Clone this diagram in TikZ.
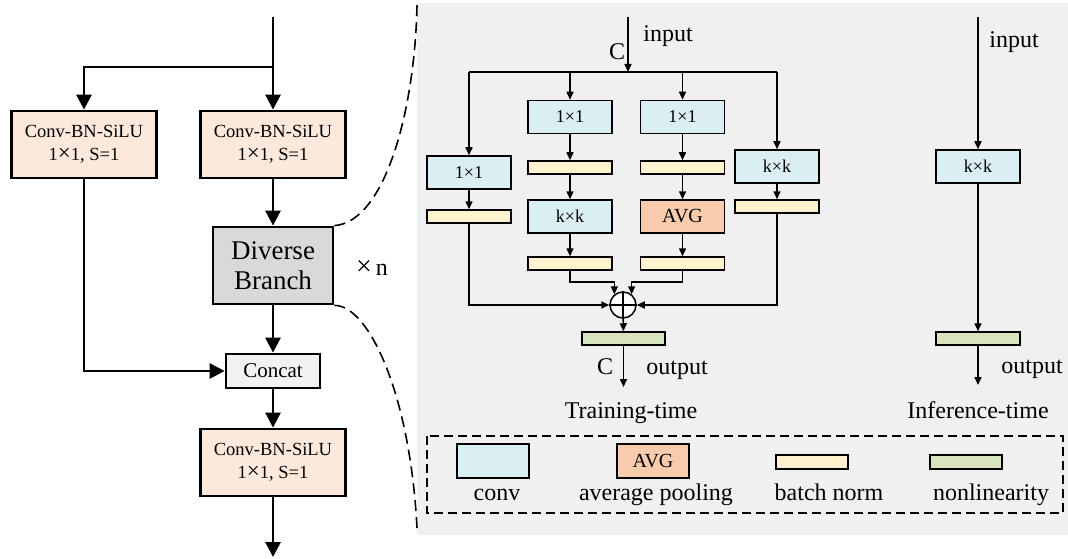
\documentclass[tikz,border=0pt]{standalone}
\usepackage{fontspec}
\setmainfont{Liberation Serif}
\newfontfamily\tnr{Liberation Serif}
\usetikzlibrary{arrows.meta,calc}
\definecolor{cbsfill}{HTML}{FCE9DB}
\definecolor{dbgray}{HTML}{D9D9D9}
\definecolor{catgray}{HTML}{F2F2F2}
\definecolor{panelgray}{HTML}{F0F0F0}
\definecolor{convblue}{HTML}{DAEEF3}
\definecolor{avgorange}{HTML}{F8CBAD}
\definecolor{bnyellow}{HTML}{FFF2CC}
\definecolor{nlgreen}{HTML}{D7E4BD}
\newcommand{\bigx}{{\fontsize{23}{23}\selectfont×}}
\begin{document}
\begin{tikzpicture}[x=1pt,y=-1pt,
  lbox/.style={draw,line width=2.8pt,inner sep=0pt,align=center},
  cbs/.style={lbox,fill=cbsfill,minimum width=145pt,minimum height=67pt,font=\tnr\fontsize{18.5}{23}\selectfont},
  sbox/.style={draw,line width=1.5pt,inner sep=0pt,align=center},
  bigarr/.style={line width=2.8pt,-{Triangle[length=15pt,width=15pt]}},
  arr/.style={line width=1.5pt,-{Triangle[length=8pt,width=7pt]}},
  ln/.style={line width=1.5pt},
  conv/.style={sbox,fill=convblue,minimum width=84pt,minimum height=33pt,font=\tnr\fontsize{18}{20}\selectfont},
  avg/.style={sbox,fill=avgorange,minimum width=84pt,minimum height=33pt,font=\tnr\fontsize{20}{22}\selectfont},
  bn/.style={sbox,fill=bnyellow,minimum width=84pt,minimum height=13pt},
  nl/.style={sbox,fill=nlgreen,minimum width=84pt,minimum height=13pt},
  lbl/.style={inner sep=0pt,anchor=base,font=\tnr\fontsize{24}{26}\selectfont},
  dashcurve/.style={line width=1.6pt,dash pattern=on 11pt off 6pt}
]
\useasboundingbox (0,0) rectangle (1068,559);
\fill[panelgray] (417,3) rectangle (1068,535);

% ---------------- left part ----------------
\coordinate (in0) at (273,17);
\coordinate (j0) at (273,67);
\coordinate (out0) at (273,557);
\node[cbs] (c1) at (84,144.5) {Conv-BN-SiLU\\1\bigx1, S=1};
\node[cbs] (c2) at (273,144.5) {Conv-BN-SiLU\\1\bigx1, S=1};
\node[lbox,fill=dbgray,minimum width=120pt,minimum height=77pt,font=\tnr\fontsize{27}{30}\selectfont] (db) at (273,265.5) {Diverse\\Branch};
\node[lbox,fill=catgray,minimum width=94pt,minimum height=34pt,font=\tnr\fontsize{21}{22}\selectfont] (cat) at (273,371) {Concat};
\node[cbs] (c3) at (273,462.5) {Conv-BN-SiLU\\1\bigx1, S=1};
\node[inner sep=0pt,anchor=base,font=\tnr\fontsize{24}{26}\selectfont] (xn) at (372,275) {{\fontsize{28}{28}\selectfont×}\,n};

\draw[bigarr] (in0) -- (c2);
\draw[bigarr] (j0) -| (c1);
\draw[bigarr] (c2) -- (db);
\draw[bigarr] (db) -- (cat);
\draw[bigarr] (cat) -- (c3);
\draw[bigarr] (c3) -- (out0);
\draw[bigarr] (c1) |- (cat);

\draw[dashcurve] (db.north east) .. controls (385,222) and (415,110) .. (417,5);
\draw[dashcurve] (db.south east) .. controls (368,305) and (410,392) .. (417,528);

% ---------------- training-time ----------------
\coordinate (tin) at (628,17);
\coordinate (tj) at (628,72);
\coordinate (h1) at (469,72);
\coordinate (h2) at (570,72);
\coordinate (h3) at (682.5,72);
\coordinate (h4) at (777,72);
\node[lbl] (tC) at (617,60) {C};
\node[lbl] (tinput) at (668,42) {input};
\draw[arr] (tin) -- (tj);
\draw[ln] (h1) -- (h4);

\node[conv] (b1c) at (469,172.5) {1×1};
\node[bn] (b1n) at (469,216.5) {};
\node[conv] (b2c1) at (570,117) {1×1};
\node[bn] (b2n1) at (570,167.5) {};
\node[conv] (b2c2) at (570,216.5) {k×k};
\node[bn] (b2n2) at (570,263.5) {};
\node[conv] (b3c1) at (682.5,117) {1×1};
\node[bn] (b3n1) at (682.5,167.5) {};
\node[avg] (b3a) at (682.5,216.5) {AVG};
\node[bn] (b3n2) at (682.5,263.5) {};
\node[conv] (b4c) at (777,166.5) {k×k};
\node[bn] (b4n) at (777,206.5) {};

\node[draw,circle,line width=1.5pt,fill=white,minimum size=26pt,inner sep=0pt] (sum) at (623,305) {};
\draw[line width=1.5pt] (sum.north) -- (sum.south) (sum.west) -- (sum.east);
\node[nl,minimum width=83pt] (g1) at (623.5,338.5) {};
\coordinate (tout) at (623.5,387);

\draw[arr] (h1) -- (b1c);
\draw[arr] (h2) -- (b2c1);
\draw[arr] (h3) -- (b3c1);
\draw[arr] (h4) -- (b4c);
\draw[arr] (b1c) -- (b1n);
\draw[arr] (b2c1) -- (b2n1);
\draw[arr] (b2n1) -- (b2c2);
\draw[arr] (b2c2) -- (b2n2);
\draw[arr] (b3c1) -- (b3n1);
\draw[arr] (b3n1) -- (b3a);
\draw[arr] (b3a) -- (b3n2);
\draw[arr] (b4c) -- (b4n);
\draw[arr] (b1n) |- (sum);
\draw[arr] (b4n) |- (sum);
\draw[arr] (b2n2.south) -- ++(0,11) -| (sum.129);
\draw[arr] (b3n2.south) -- ++(0,11) -| (sum.51);
\draw[arr] (sum) -- (g1);
\draw[arr] (g1) -- (tout);
\node[lbl] (oC) at (605,374) {C};
\node[lbl] (toutput) at (677,374) {output};
\node[lbl] (ttime) at (631,418) {Training-time};

% ---------------- inference-time ----------------
\coordinate (iin) at (978,17);
\node[conv] (ic) at (978,166.5) {k×k};
\node[nl] (ig) at (978,338.5) {};
\coordinate (iout) at (978,385);
\draw[arr] (iin) -- (ic);
\draw[arr] (ic) -- (ig);
\draw[arr] (ig) -- (iout);
\node[lbl] (iinput) at (1014,48) {input};
\node[lbl] (ioutput) at (1032,373) {output};
\node[lbl] (itime) at (978,418) {Inference-time};

% ---------------- legend ----------------
\draw[line width=1.5pt,dash pattern=on 9pt off 5pt] (427,436) rectangle (1063,513);
\node[sbox,fill=convblue,minimum width=72pt,minimum height=34pt] (lconv) at (493,461) {};
\node[sbox,fill=avgorange,minimum width=72pt,minimum height=34pt,font=\tnr\fontsize{20}{22}\selectfont] (lavg) at (653,461) {AVG};
\node[sbox,fill=bnyellow,minimum width=72pt,minimum height=14pt] (lbn) at (812,462) {};
\node[sbox,fill=nlgreen,minimum width=72pt,minimum height=14pt] (lnl) at (966,462) {};
\node[lbl] (tconv) at (497,500) {conv};
\node[lbl] (tavg) at (656,500) {average pooling};
\node[lbl] (tbn) at (829,500) {batch norm};
\node[lbl] (tnl) at (991,500) {nonlinearity};
\end{tikzpicture}
\end{document}
